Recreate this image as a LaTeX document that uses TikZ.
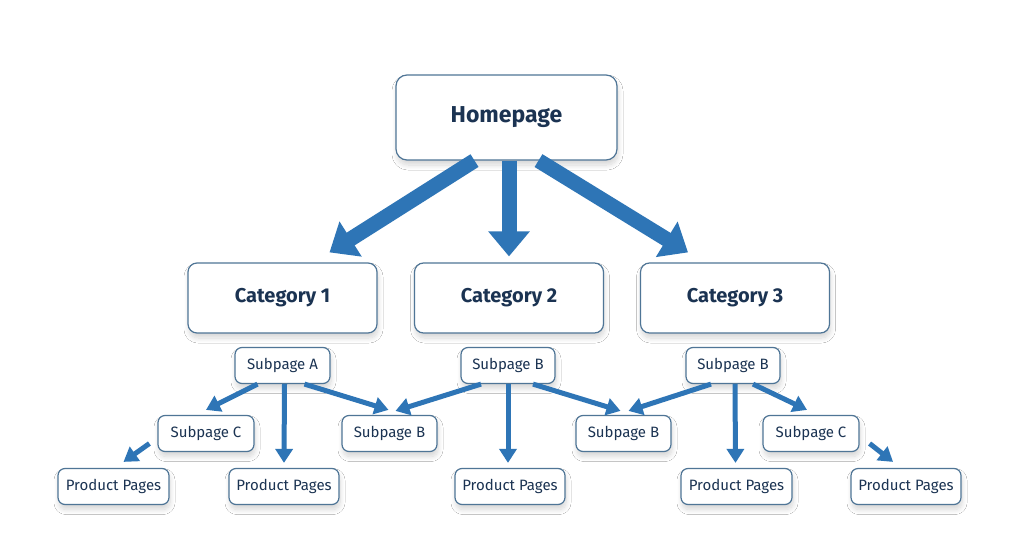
\documentclass[tikz,border=0pt]{standalone}
\usepackage{fontspec}
\setmainfont{Fira Sans}
\usetikzlibrary{arrows.meta,shadows.blur,calc}
\definecolor{arrowblue}{HTML}{2E75B6}
\definecolor{boxline}{HTML}{4F7596}
\definecolor{txt}{HTML}{1B3352}
\begin{document}
\begin{tikzpicture}[x=1pt,y=-1pt,
  box/.style={draw=boxline,line width=1.2pt,fill=white,text=txt,inner sep=0pt,
    blur shadow={shadow xshift=1pt,shadow yshift=-5pt,shadow blur radius=5pt,shadow blur steps=10,shadow opacity=16}},
  bigbox/.style={box,rounded corners=11pt,minimum width=221pt,minimum height=85pt,font=\fontsize{23}{26}\selectfont\bfseries},
  catbox/.style={box,rounded corners=9pt,minimum width=189pt,minimum height=70pt,font=\fontsize{20}{23}\selectfont\bfseries},
  smallbox/.style={box,rounded corners=7pt,minimum height=36pt,font=\fontsize{15}{17}\selectfont},
  bigarrow/.style={draw=arrowblue,line width=15pt,-{Triangle[width=40pt,length=25pt]}},
  arrow/.style={draw=arrowblue,line width=5pt,-{Triangle[width=17pt,length=14pt]}}]
\fill[white!98!black!1] (0,0) rectangle (1024,559);
\useasboundingbox (0,0) rectangle (1024,559);
% nodes
\node[bigbox] (home) at (506.5,117.5) {Homepage};
\node[catbox] (cat1) at (282.5,298) {Category 1};
\node[catbox] (cat2) at (509,298) {Category 2};
\node[catbox] (cat3) at (735,298) {Category 3};
\node[smallbox,minimum width=95pt] (subA) at (282.5,365.5) {Subpage A};
\node[smallbox,minimum width=94pt] (subB1) at (508,365.5) {Subpage B};
\node[smallbox,minimum width=94pt] (subB2) at (733,365.5) {Subpage B};
\node[smallbox,minimum width=96pt] (subC1) at (206,433.5) {Subpage C};
\node[smallbox,minimum width=95pt] (subB3) at (389.5,433.5) {Subpage B};
\node[smallbox,minimum width=95pt] (subB4) at (623.5,433.5) {Subpage B};
\node[smallbox,minimum width=96pt] (subC2) at (811,433.5) {Subpage C};
\node[smallbox,minimum width=111pt] (pp1) at (113.5,486.5) {Product Pages};
\node[smallbox,minimum width=110pt] (pp2) at (284,486.5) {Product Pages};
\node[smallbox,minimum width=110pt] (pp3) at (510,486.5) {Product Pages};
\node[smallbox,minimum width=111pt] (pp4) at (736.5,486.5) {Product Pages};
\node[smallbox,minimum width=110pt] (pp5) at (906,486.5) {Product Pages};
% big arrows
\draw[bigarrow] ($(home.south)+(-32,0)$) -- ($(cat1.north)+(47,-10)$);
\draw[bigarrow] ($(home.south)+(2.5,0)$) -- ($(cat2.north)+(0,-6)$);
\draw[bigarrow] ($(home.south)+(32,0)$) -- ($(cat3.north)+(-47,-10)$);
% small arrows
\draw[arrow] ($(subA.south)+(-25,0)$) -- ($(subC1.north)+(0,-5)$);
\draw[arrow] ($(subA.south)+(2,0)$) -- ($(pp2.north)+(0,-5)$);
\draw[arrow] ($(subA.south)+(22,0)$) -- ($(subB3.north)+(-1,-5)$);
\draw[arrow] ($(subB1.south)+(-27,0)$) -- ($(subB3.north)+(6,-4)$);
\draw[arrow] ($(subB1.south)+(0,0)$) -- ($(pp3.north)+(-2,-5)$);
\draw[arrow] ($(subB1.south)+(25,0)$) -- ($(subB4.north)+(-3,-4)$);
\draw[arrow] ($(subB2.south)+(-22,0)$) -- ($(subB4.north)+(5,-4)$);
\draw[arrow] ($(subB2.south)+(2,0)$) -- ($(pp4.north)+(-1,-5)$);
\draw[arrow] ($(subB2.south)+(20,0)$) -- ($(subC2.north)+(-4,-5)$);
\coordinate (c1s) at ($(subC1.west)+(-8,10)$);
\coordinate (c2s) at ($(subC2.east)+(10,10)$);
\draw[arrow] (c1s) -- ($(pp1.north)+(10,-6)$);
\draw[arrow] (c2s) -- ($(pp5.north)+(-13,-6)$);
\end{tikzpicture}
\end{document}
